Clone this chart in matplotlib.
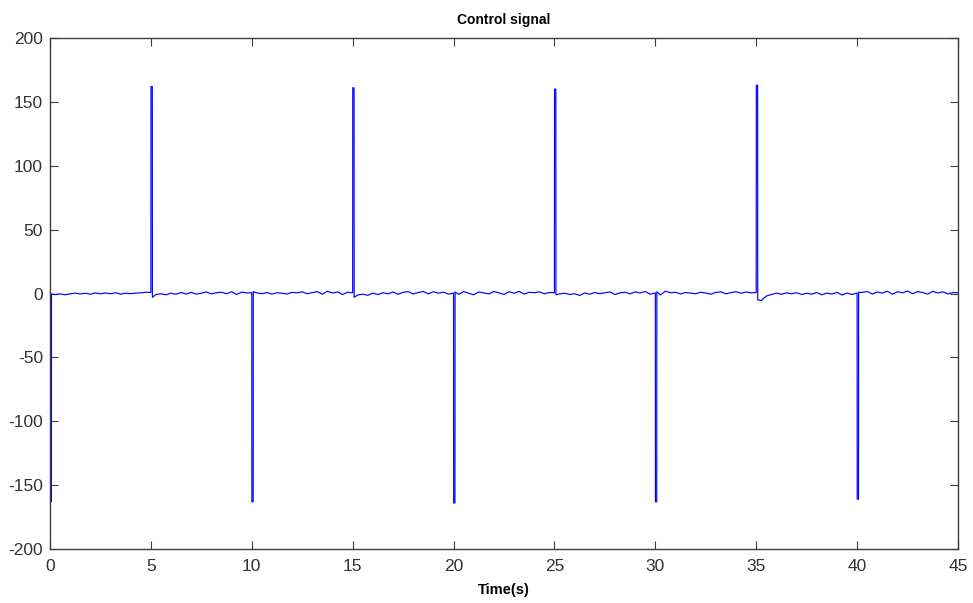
import numpy as np
import matplotlib
matplotlib.use("Agg")
import matplotlib.pyplot as plt

# ---- data ----
step = 0.25
noise = [
    -0.5, -0.8, -0.3, -1.0, -0.2, 0.3, -0.4, 0.2, -0.6, 0.5, -0.3, 0.4, -0.2, 0.6, -0.5, 0.2, -0.1, 0.3, 0.5, 1.0,
    -2.5, -0.8, -0.2, -1.0, 0.3, -0.6, 0.8, -0.4, 0.9, -0.5, 0.2, 1.2, -0.3, 0.6, 1.0, -0.2, 1.4, -0.8, 1.1, 0.4,
    1.2, 0.5, -0.2, 0.8, -0.5, 0.6, 0.2, -0.4, 0.9, 0.5, 1.3, -0.2, 0.7, 1.5, -0.6, 1.8, 0.4, 1.2, -0.8, 1.0,
    -2.6, -1.2, -0.5, -1.4, 0.3, -0.8, 0.6, -0.3, 1.2, -0.6, 0.9, 1.5, -0.4, 0.8, 1.6, -0.3, 1.4, 0.2, 1.1, -0.5,
    1.8, -0.6, 1.5, 0.2, -1.0, 1.2, 0.4, -0.3, 1.6, 0.5, -0.8, 1.4, 0.2, 1.7, -0.5, 1.0, 0.6, 1.3, -0.2, 0.8,
    -1.0, -0.4, 0.3, -0.8, -0.2, -1.5, 0.5, -0.6, 0.8, -0.2, 0.6, 1.2, -0.8, 0.5, 1.0, -0.3, 1.3, 0.4, 1.6, -0.6,
    1.5, -1.2, 1.8, 0.6, 1.0, -0.4, 0.8, 0.3, -0.2, 1.0, 0.4, -0.6, 0.9, 1.3, -0.3, 0.7, 1.4, 0.2, 1.2, 0.5,
    -6.0, -5.5, -2.0, -0.8, 0.3, -0.6, 0.5, -0.2, 0.6, -0.8, 0.2, -0.5, 0.8, -1.0, 0.3, -0.4, 0.9, -1.2, 0.4, -0.8,
    -1.5, 0.8, 1.6, -0.4, 1.2, 0.3, 1.8, -0.6, 1.4, 0.5, 1.9, -0.2, 1.5, 0.8, -0.5, 1.7, 0.4, 1.3, -0.3, 0.8, 0.6,
]
spike_times = [0, 5, 10, 15, 20, 25, 30, 35, 40]
spike_peaks = [-163, 162, -163, 161, -164, 160, -163, 163, -161]
spike_pre = [-0.5, 0.8, 0.6, 0.5, 0.3, 0.6, 0.5, 0.8, 0.4]
spike_post = [-0.4, -3.0, 1.5, -3.0, 1.2, -1.0, 1.4, -5.0, 1.0]
spike_width = 0.07

# ---- build the signal ----
t_base = np.arange(len(noise)) * step
y_base = np.array(noise, dtype=float)
keep = ~np.isin(np.round(t_base, 3), spike_times)
t_all = list(t_base[keep])
y_all = list(y_base[keep])
for ts, pk, pre, post in zip(spike_times, spike_peaks, spike_pre, spike_post):
    t_all += [ts, ts + 0.005, ts + spike_width, ts + spike_width + 0.005]
    y_all += [pre, pk, pk, post]
order = np.argsort(t_all, kind="stable")
t_all = np.array(t_all)[order]
y_all = np.array(y_all)[order]

# ---- figure ----
plt.rcParams["font.family"] = ["Liberation Sans", "DejaVu Sans"]
plt.rcParams["axes.unicode_minus"] = False
fig = plt.figure(figsize=(9.73, 6.03), dpi=100)
ax = fig.add_axes([50 / 973, 1 - 549 / 603, 908 / 973, 511 / 603])
ax.plot(t_all, y_all, color="#0000ff", lw=0.85)
ax.set_xlim(0, 45)
ax.set_ylim(-200, 200)
ax.set_xticks(np.arange(0, 46, 5))
ax.set_yticks(np.arange(-200, 201, 50))
for s in ax.spines.values():
    s.set_color("#3c3c3c")
    s.set_linewidth(1.0)
ax.tick_params(direction="in", length=6, width=0.8, color="#3c3c3c",
               top=True, right=True, labelsize=12.5, labelcolor="#333333")
ax.tick_params(axis="x", pad=7)
ax.tick_params(axis="y", pad=5)
ax.set_title("Control signal", fontsize=10, fontweight="bold", pad=10)
ax.set_xlabel("Time(s)", fontsize=10.5, fontweight="bold", labelpad=7)
fig.savefig("out.png", dpi=100)
